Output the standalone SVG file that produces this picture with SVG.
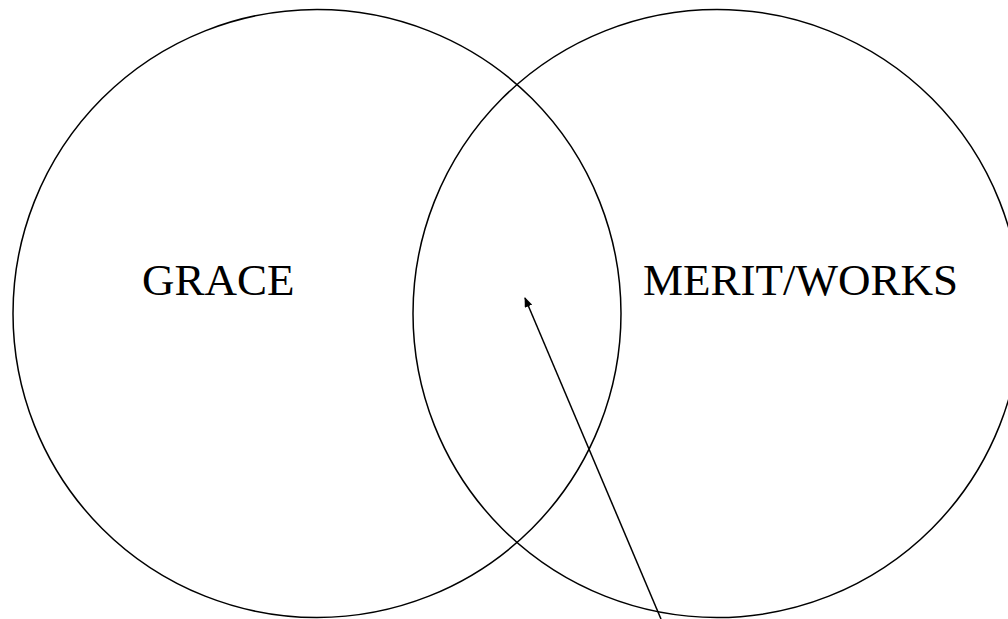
<svg xmlns="http://www.w3.org/2000/svg" width="1008" height="619" viewBox="0 0 1008 619">
<style>
.c{fill:none;stroke:#000;stroke-width:1.5}
.t{font-family:"Liberation Serif","Times New Roman",serif;font-size:45px;fill:#000}
</style>
<defs>
<marker id="ah" markerWidth="10" markerHeight="8" refX="9" refY="4" orient="auto" markerUnits="userSpaceOnUse">
<path d="M0,0 L10,4 L0,8 Z" fill="#000"/>
</marker>
</defs>
<rect width="1008" height="619" fill="#fff"/>
<g id="grace">
<circle class="c" cx="317" cy="313.5" r="304"/>
<text class="t" x="142" y="295">GRACE</text>
</g>
<g id="merit">
<circle class="c" cx="717" cy="313.5" r="304"/>
<text class="t" x="643" y="295">MERIT/WORKS</text>
</g>
<g id="connectors">
<line x1="661" y1="619" x2="525" y2="298" stroke="#000" stroke-width="1.5" marker-end="url(#ah)"/>
</g>
</svg>
